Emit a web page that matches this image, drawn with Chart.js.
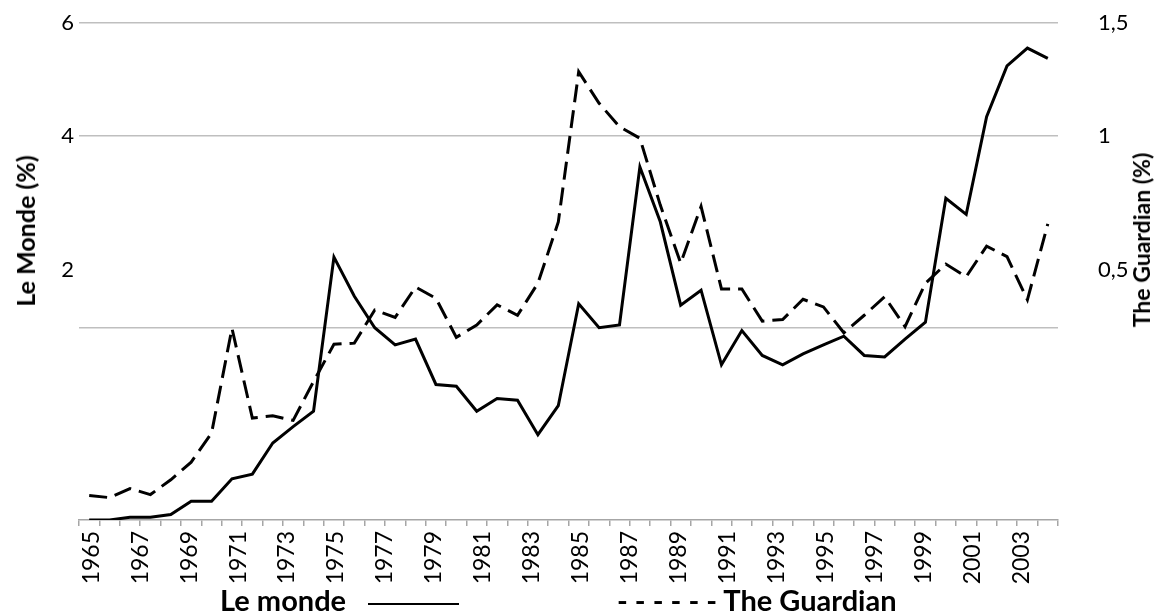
<!DOCTYPE html>
<html>
<head>
<meta charset="utf-8">
<script src="https://cdn.jsdelivr.net/npm/chart.js@4.4.1/dist/chart.umd.min.js"></script>
<style>
  html, body { margin: 0; padding: 0; background: #fff; }
  #wrap { position: relative; width: 1155px; height: 614px; overflow: hidden; font-family: Lato, "Open Sans", sans-serif; color: #000; }
  canvas { position: absolute; left: 0; top: 0; }
  .ytitle { position: absolute; font-weight: bold; white-space: nowrap; transform: translate(-50%, -50%) rotate(-90deg); }
  .leg { position: absolute; font-weight: bold; font-size: 29px; white-space: nowrap; line-height: 1; }
  .legline { position: absolute; height: 0; border-top: 2px solid #000; }
</style>
</head>
<body>
<div id="wrap">
  <canvas id="c" width="1155" height="614"></canvas>
  <div class="ytitle" style="left:25px; top:231px; font-size:25px;">Le Monde (%)</div>
  <div class="ytitle" style="left:1141px; top:240px; font-size:23px;">The Guardian (%)</div>
  <div class="leg" style="left:220px; top:585px;">Le monde</div>
  <div class="legline" style="left:368px; width:91px; top:603px;"></div>
  <div class="leg" style="left:617px; top:585px;">- - - - - - The Guardian</div>
</div>
<script>
// Year labels shown under the axis
const years = ['1965','1966','1967','1968','1969','1970','1971','1972','1973','1974',
  '1975','1976','1977','1978','1979','1980','1981','1982','1983','1984',
  '1985','1986','1987','1988','1989','1990','1991','1992','1993','1994',
  '1995','1996','1997','1998','1999','2000','2001','2002','2003','2004'];

// Le Monde (%) - left axis
const leMonde = [1.00,1.00,1.01,1.01,1.02,1.07,1.07,1.16,1.18,1.32,
  1.40,1.48,2.58,2.24,2.00,1.88,1.92,1.63,1.62,1.48,
  1.55,1.54,1.36,1.51,2.18,2.00,2.02,3.57,2.93,2.17,
  2.29,1.75,1.98,1.81,1.75,1.82,1.88,1.94,1.81,1.80,
  1.92,2.04,3.19,3.01,4.28,5.14,5.48,5.28];

// The Guardian (%) - right axis
const guardian = [0.273,0.271,0.280,0.274,0.289,0.308,0.342,0.499,0.361,0.364,
  0.358,0.412,0.471,0.473,0.533,0.519,0.579,0.556,0.483,0.505,
  0.543,0.523,0.587,0.732,1.258,1.123,1.032,0.990,0.778,0.631,
  0.774,0.575,0.575,0.512,0.515,0.554,0.539,0.491,0.523,0.559,
  0.502,0.587,0.629,0.601,0.671,0.646,0.553,0.727];

// Tick labels
const leftTickLabels = ['2','4','6'];
const rightTickLabels = ['0,5','1','1,5'];

const pointLabels = leMonde.map((_, i) => String(i + 1));

// label of the lowest tick sits above its gridline in the reference
const leftTicks = [
  {value: 2, label: ''},
  {value: 2.463, label: leftTickLabels[0], noGrid: true},
  {value: 4, label: leftTickLabels[1]},
  {value: 6, label: leftTickLabels[2]}
];
const rightTicks = [
  {value: 0.616, label: rightTickLabels[0]},
  {value: 1, label: rightTickLabels[1]},
  {value: 1.5, label: rightTickLabels[2]}
];

const FONT = 'Lato, "Open Sans", sans-serif';

new Chart(document.getElementById('c'), {
  type: 'line',
  data: {
    labels: pointLabels,
    datasets: [
      {
        label: 'Le monde', data: leMonde, yAxisID: 'y', xAxisID: 'x',
        borderColor: '#000', borderWidth: 3, pointRadius: 0, tension: 0, fill: false
      },
      {
        label: 'The Guardian', data: guardian, yAxisID: 'y1', xAxisID: 'x',
        borderColor: '#000', borderWidth: 3, borderDash: [18, 8], pointRadius: 0, tension: 0, fill: false
      }
    ]
  },
  options: {
    responsive: false,
    animation: false,
    events: [],
    layout: { padding: { left: 0, right: 0, top: 23, bottom: 0 } },
    plugins: { legend: { display: false }, tooltip: { enabled: false } },
    scales: {
      x: {
        type: 'category', position: 'bottom', offset: true,
        grid: { offset: true, drawOnChartArea: false, drawTicks: true, tickLength: 6, color: '#a6a6a6', lineWidth: 1.5 },
        border: { display: true, color: '#a6a6a6', width: 1.5 },
        ticks: { display: false },
        afterFit: (s) => { s.height = 7; }
      },
      x2: {
        type: 'category', position: 'bottom', offset: true, labels: years,
        grid: { display: false, drawTicks: false },
        border: { display: false },
        ticks: {
          autoSkip: false, maxRotation: 90, minRotation: 90, padding: 4,
          color: '#000', font: { family: FONT, size: 23 },
          callback: function (v, i) { return i % 2 === 0 ? this.getLabelForValue(v) : ''; }
        },
        afterFit: (s) => { s.height = 87; }
      },
      y: {
        type: 'logarithmic', position: 'left', min: 1, max: 6,
        afterBuildTicks: (s) => { s.ticks = leftTicks.map(t => ({ value: t.value })); },
        ticks: {
          color: '#000', padding: 5, font: { family: FONT, size: 22 },
          callback: (v) => { const t = leftTicks.find(k => Math.abs(k.value - v) < 1e-6); return t ? t.label : ''; }
        },
        grid: {
          drawTicks: false, lineWidth: 1.5,
          color: (ctx) => { const t = leftTicks.find(k => ctx.tick && Math.abs(k.value - ctx.tick.value) < 1e-6); return (t && t.noGrid) ? 'rgba(0,0,0,0)' : '#bfbfbf'; }
        },
        border: { display: false },
        afterFit: (s) => { s.width = 79; }
      },
      y1: {
        type: 'logarithmic', position: 'right', min: 0.25, max: 1.5,
        afterBuildTicks: (s) => { s.ticks = rightTicks.map(t => ({ value: t.value })); },
        ticks: {
          color: '#000', padding: 4, font: { family: FONT, size: 22 },
          callback: (v) => { const t = rightTicks.find(k => Math.abs(k.value - v) < 1e-6); return t ? t.label : ''; }
        },
        grid: { display: true, drawOnChartArea: false, drawTicks: true, tickLength: 36, color: 'rgba(0,0,0,0)' },
        border: { display: false },
        afterFit: (s) => { s.width = 97; }
      }
    }
  }
});
</script>
</body>
</html>
